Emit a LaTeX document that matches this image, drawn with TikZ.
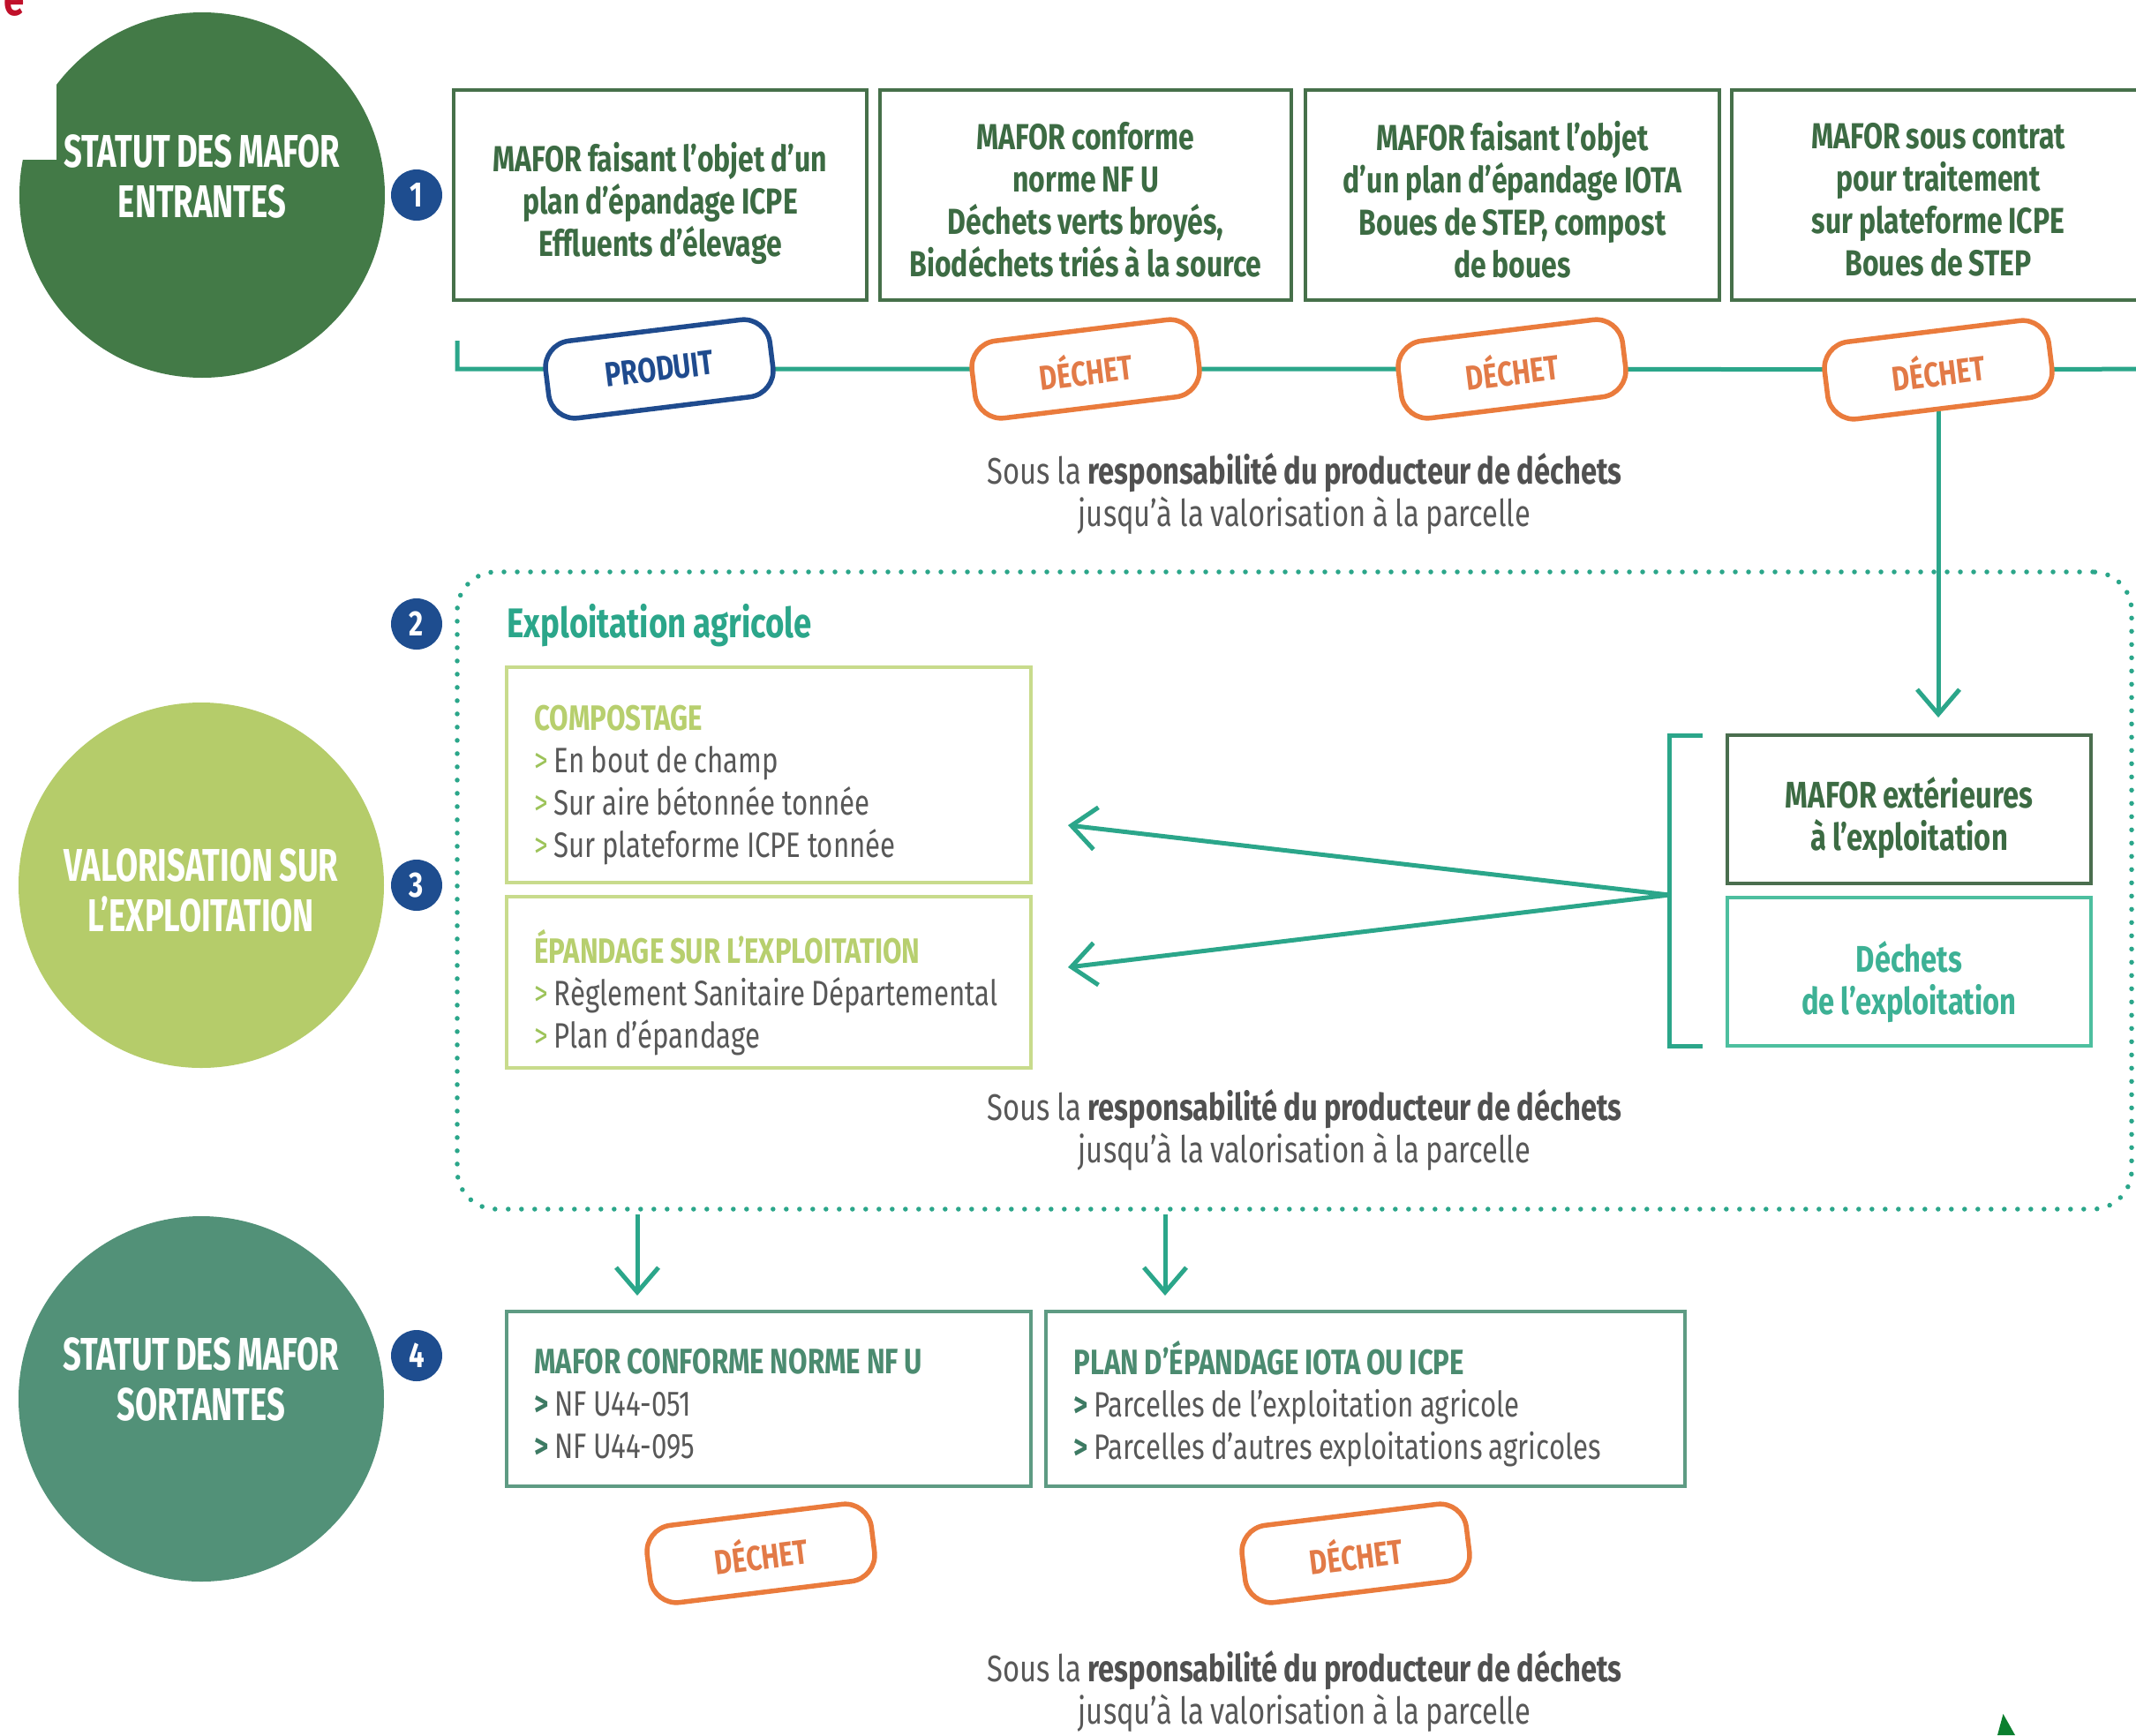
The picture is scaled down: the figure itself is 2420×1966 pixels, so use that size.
\documentclass[tikz,border=0pt]{standalone}
\usepackage{fontspec}
\setmainfont{Fira Sans}[FakeStretch=0.78, WordSpace=0.9]
\newfontfamily\circfont{Fira Sans}[FakeStretch=0.7, WordSpace=0.8]
\usetikzlibrary{arrows.meta,calc}
\pgfdeclarelayer{background}
\pgfsetlayers{background,main}

\definecolor{cDark}{HTML}{437A47}
\definecolor{cLight}{HTML}{B5CC6A}
\definecolor{cMid}{HTML}{529178}
\definecolor{cBlue}{HTML}{1E4D8F}
\definecolor{cBoxG}{HTML}{46704A}
\definecolor{cTxtG}{HTML}{3C6B43}
\definecolor{cTeal}{HTML}{2BA68A}
\definecolor{cOrange}{HTML}{EA7B3C}
\definecolor{cOrTxt}{HTML}{E27A47}
\definecolor{cProd}{HTML}{1F4B8E}
\definecolor{cLBord}{HTML}{C8DB8C}
\definecolor{cLTitle}{HTML}{B7CF6E}
\definecolor{cLArrow}{HTML}{9DC35A}
\definecolor{cGray}{HTML}{585858}
\definecolor{cGrayB}{HTML}{505050}
\definecolor{cBotBord}{HTML}{5E9B83}
\definecolor{cBotTitle}{HTML}{4B8B70}
\definecolor{cBotArr}{HTML}{3D7A63}
\definecolor{cExtBord}{HTML}{4A6E4E}
\definecolor{cDechBord}{HTML}{4DBF9F}
\definecolor{cDechTxt}{HTML}{3DB195}
\definecolor{cRed}{HTML}{C0102A}
\definecolor{cTri}{HTML}{0A7F2E}

\newcommand\gtL{\textcolor{cLArrow}{>}\,}
\newcommand\gtB{\textcolor{cBotArr}{\textbf{>}}\,}

\begin{document}
\begin{tikzpicture}[x=0.5pt,y=-0.5pt,
  bigcirc/.style={circle, minimum size=207pt, inner sep=0pt},
  circtext/.style={text=white, font=\circfont\bfseries\fontsize{26}{28.5}\selectfont, align=center},
  badge/.style={circle, fill=cBlue, minimum size=29pt, inner sep=0pt, text=white, font=\bfseries\fontsize{20}{20}\selectfont},
  topbox/.style={draw=cBoxG, line width=2pt, minimum height=119pt, inner sep=0pt},
  toptext/.style={text=cTxtG, align=center, font=\bfseries\fontsize{20.5}{24}\selectfont, inner sep=0pt},
  tagbox/.style={line width=2.75pt, fill=white, rounded corners=15pt, minimum width=128pt, minimum height=44pt, rotate=7, font=\bfseries\fontsize{19.5}{19.5}\selectfont},
  dechet/.style={tagbox, draw=cOrange, text=cOrTxt},
  produit/.style={tagbox, draw=cProd, text=cProd},
  tealline/.style={draw=cTeal, line width=2.5pt},
  arr/.style={draw=cTeal, line width=2.5pt, -{Straight Barb[length=14pt,width=24pt]}},
  soustext/.style={align=center, text=cGray, font=\fontsize{21}{24}\selectfont},
  lbox/.style={draw=cLBord, line width=2pt, minimum width=297pt, inner sep=0pt},
  bbox/.style={draw=cBotBord, line width=2pt, inner sep=0pt, minimum height=99pt},
  ltext/.style={anchor=west, align=left, inner sep=0pt, text=cGray, font=\fontsize{20}{24}\selectfont},
  sidebox/.style={line width=2pt, minimum width=206pt, minimum height=84pt, inner sep=0pt},
  sidetext/.style={align=center, font=\bfseries\fontsize{21}{24}\selectfont, inner sep=0pt}
]
\useasboundingbox (0,0) rectangle (2420,1966);
\clip (0,0) rectangle (2420,1966);

% circles
\node[bigcirc, fill=cDark] (circ1) at (229,221) {};
\node[circtext] (circ1t) at (229,200) {STATUT DES MAFOR\\ENTRANTES};
\fill[white] (0,0) rectangle (64,181);
\node[text=cRed, font=\bfseries\fontsize{27}{27}\selectfont, anchor=base west, inner sep=0pt] (rede) at (4,17) {e};
\node[bigcirc, fill=cLight] (circ2) at (228,1003) {};
\node[circtext] (circ2t) at (228,1009) {VALORISATION SUR\\L’EXPLOITATION};
\node[bigcirc, fill=cMid] (circ3) at (228,1585) {};
\node[circtext] (circ3t) at (228,1563) {STATUT DES MAFOR\\SORTANTES};

% badges
\node[badge] (b1) at (472,221) {1};
\node[badge] (b2) at (472,707) {2};
\node[badge] (b3) at (472,1003) {3};
\node[badge] (b4) at (472,1536) {4};

% top boxes
\node[topbox, minimum width=234pt] (t1) at (748,221) {};
\node[toptext] (t1x) at (748,230) {MAFOR faisant l’objet d’un\\plan d’épandage ICPE\\Effluents d’élevage};
\node[topbox, minimum width=233pt] (t2) at (1230,221) {};
\node[toptext] (t2x) at (1230,226) {MAFOR conforme\\norme NF U\\Déchets verts broyés,\\Biodéchets triés à la source};
\node[topbox, minimum width=234.5pt] (t3) at (1713.5,221) {};
\node[toptext] (t3x) at (1713.5,226) {MAFOR faisant l’objet\\d’un plan d’épandage IOTA\\Boues de STEP, compost\\de boues};
\node[topbox, minimum width=234pt] (t4) at (2196,221) {};
\node[toptext] (t4x) at (2196,226) {MAFOR sous contrat\\pour traitement\\sur plateforme ICPE\\Boues de STEP};

% tags
\node[produit] (tP) at (747,418) {PRODUIT};
\node[dechet] (tD1) at (1230,418) {DÉCHET};
\node[dechet] (tD2) at (1713,418) {DÉCHET};
\node[dechet] (tD3) at (2196,419) {DÉCHET};
\coordinate (tl0) at (518,386);
\coordinate (tlend) at (2440,418);

% side boxes
\node[sidebox, draw=cExtBord] (ext) at (2163,917) {};
\node[sidetext, text=cTxtG] (extx) at (2163,927) {MAFOR extérieures\\à l’exploitation};
\node[sidebox, draw=cDechBord] (dech) at (2163,1101) {};
\node[sidetext, text=cDechTxt] (dechx) at (2163,1113) {Déchets\\de l’exploitation};

\begin{pgfonlayer}{background}
\fill[white] (0,0) rectangle (2420,1966);
\draw[tealline] (tl0) |- (tP.center) -- (tD1.center) -- (tD2.center) -- (tD3.center) -- (tlend);
\draw[arr, shorten >=9pt] (tD3.center) -- (tD3.center |- ext.north);
\end{pgfonlayer}

\node[soustext] (s1) at (1478,559) {Sous la \textcolor{cGrayB}{\textbf{responsabilité du producteur de déchets}}\\jusqu’à la valorisation à la parcelle};

% farm dotted box
\node[draw=cTeal, line width=2.75pt, line cap=round, dash pattern=on 0pt off 7.5pt, rounded corners=22pt, minimum width=948.5pt, minimum height=361pt] (farm) at (1466.5,1009) {};
\node[anchor=base west, text=cTeal, font=\bfseries\fontsize{23.5}{23.5}\selectfont, inner sep=0pt] (ea) at (574,722) {Exploitation agricole};

\node[lbox, minimum height=122pt] (comp) at (871,878) {};
\node[ltext] (compx) at (605,890) {\textcolor{cLTitle}{\textbf{COMPOSTAGE}}\\\gtL En bout de champ\\\gtL Sur aire bétonnée tonnée\\\gtL Sur plateforme ICPE tonnée};
\node[lbox, minimum height=97pt] (epan) at (871,1113) {};
\node[ltext] (epanx) at (605,1125) {\textcolor{cLTitle}{\textbf{ÉPANDAGE SUR L’EXPLOITATION}}\\\gtL Règlement Sanitaire Départemental\\\gtL Plan d’épandage};

% bracket and arrows
\coordinate (brT) at (1929,833);
\coordinate (brB) at (1929,1185);
\coordinate (brM) at (1891,1014);
\draw[tealline] (brT) -| (brM) |- (brB);
\coordinate (a1) at (1210,935);
\coordinate (a2) at (1210,1096);
\draw[arr] (brM) -- (a1);
\draw[arr] (brM) -- (a2);

\node[soustext] (s2) at (1478,1280) {Sous la \textcolor{cGrayB}{\textbf{responsabilité du producteur de déchets}}\\jusqu’à la valorisation à la parcelle};

% outgoing arrows
\coordinate (d1s) at (722,1376);
\coordinate (d1e) at (722,1468);
\coordinate (d2s) at (1320,1376);
\coordinate (d2e) at (1320,1468);
\draw[arr] (d1s) -- (d1e);
\draw[arr] (d2s) -- (d2e);

\node[bbox, minimum width=297pt] (bA) at (871,1585) {};
\node[ltext] (bAx) at (605,1591) {\textcolor{cBotTitle}{\textbf{MAFOR CONFORME NORME NF U}}\\\gtB NF U44-051\\\gtB NF U44-095};
\node[bbox, minimum width=362pt] (bB) at (1547,1585) {};
\node[ltext] (bBx) at (1216,1591) {\textcolor{cBotTitle}{\textbf{PLAN D’ÉPANDAGE IOTA OU ICPE}}\\\gtB Parcelles de l’exploitation agricole\\\gtB Parcelles d’autres exploitations agricoles};

\node[dechet] (tB1) at (862,1760) {DÉCHET};
\node[dechet] (tB2) at (1536,1760) {DÉCHET};

\node[soustext] (s3) at (1478,1916) {Sous la \textcolor{cGrayB}{\textbf{responsabilité du producteur de déchets}}\\jusqu’à la valorisation à la parcelle};

\fill[cTri] (2263,1966) -- (2269.5,1942) -- (2283,1966) -- cycle;
\end{tikzpicture}
\end{document}
